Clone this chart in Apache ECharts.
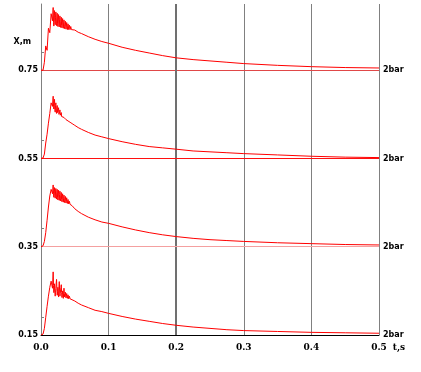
<!DOCTYPE html>
<html>
<head>
<meta charset="utf-8">
<script src="https://cdn.jsdelivr.net/npm/echarts@6/dist/echarts.min.js"></script>
<style>
html,body{margin:0;padding:0;background:#fff;}
#chart{width:421px;height:372px;}
</style>
</head>
<body>
<div id="chart"></div>
<script>
// Time samples (s)
const timeS = [0, 0.003, 0.005, 0.007, 0.009, 0.011, 0.013, 0.015, 0.017,
  0.018, 0.0185, 0.019, 0.0195, 0.020, 0.0205, 0.021, 0.0215, 0.022, 0.0225,
  0.023, 0.0235, 0.024, 0.0245, 0.025, 0.0255, 0.026, 0.0265, 0.027, 0.0275,
  0.028, 0.0285, 0.029, 0.0295, 0.030, 0.0305, 0.031, 0.0315, 0.032, 0.0325,
  0.033, 0.0335, 0.034, 0.0345, 0.035, 0.0355, 0.036,
  0.037, 0.038, 0.039, 0.040, 0.041, 0.042, 0.043, 0.044, 0.045, 0.046,
  0.050, 0.055, 0.060, 0.070, 0.080, 0.090, 0.100, 0.120, 0.140, 0.160,
  0.180, 0.200, 0.225, 0.250, 0.275, 0.300, 0.350, 0.400, 0.450, 0.500];

// Displacement X, m (each trace drawn on its own baseline)
const curve075 = [0.750, 0.750, 0.768, 0.805, 0.795, 0.845, 0.835, 0.878, 0.862,
  0.892, 0.858, 0.850, 0.874, 0.885, 0.860, 0.853, 0.870, 0.882, 0.856,
  0.851, 0.868, 0.879, 0.855, 0.849, 0.866, 0.876, 0.853, 0.848, 0.864,
  0.873, 0.852, 0.847, 0.861, 0.870, 0.851, 0.846, 0.859, 0.867, 0.850,
  0.845, 0.857, 0.864, 0.849, 0.844, 0.854, 0.861,
  0.843, 0.858, 0.842, 0.855, 0.842, 0.852, 0.842, 0.849, 0.842, 0.846,
  0.841, 0.836, 0.833, 0.826, 0.820, 0.815, 0.811, 0.802, 0.795, 0.789,
  0.783, 0.778, 0.774, 0.771, 0.768, 0.765, 0.761, 0.758, 0.756, 0.755];

const curve055 = [0.550, 0.551, 0.560, 0.585, 0.605, 0.630, 0.652, 0.676, 0.668,
  0.691, 0.668, 0.662, 0.678, 0.684, 0.661, 0.655, 0.670, 0.676, 0.657,
  0.652, 0.664, 0.670, 0.654, 0.650, 0.660, 0.665, 0.650, 0.646, 0.655,
  0.660, 0.648, 0.645, 0.651, 0.654, 0.645, 0.643, 0.646, 0.648, 0.642,
  0.641, 0.642, 0.643, 0.640, 0.639, 0.639, 0.639,
  0.638, 0.637, 0.636, 0.635, 0.634, 0.633, 0.632, 0.631, 0.630, 0.629,
  0.625, 0.620, 0.616, 0.609, 0.603, 0.599, 0.595, 0.588, 0.582, 0.577,
  0.574, 0.571, 0.567, 0.565, 0.563, 0.561, 0.558, 0.555, 0.553, 0.552];

const curve035 = [0.350, 0.352, 0.362, 0.382, 0.410, 0.440, 0.465, 0.480, 0.470,
  0.490, 0.470, 0.462, 0.476, 0.484, 0.466, 0.460, 0.474, 0.482, 0.464,
  0.458, 0.472, 0.480, 0.462, 0.456, 0.470, 0.478, 0.461, 0.455, 0.468,
  0.476, 0.459, 0.454, 0.466, 0.473, 0.457, 0.452, 0.463, 0.470, 0.456,
  0.451, 0.460, 0.467, 0.455, 0.450, 0.458, 0.464,
  0.449, 0.461, 0.448, 0.457, 0.447, 0.453, 0.446, 0.449, 0.444, 0.443,
  0.436, 0.430, 0.425, 0.417, 0.411, 0.406, 0.403, 0.395, 0.388, 0.382,
  0.377, 0.373, 0.369, 0.366, 0.364, 0.362, 0.359, 0.357, 0.355, 0.354];

const curve015 = [0.150, 0.152, 0.165, 0.190, 0.215, 0.238, 0.258, 0.272, 0.256,
  0.293, 0.262, 0.246, 0.254, 0.266, 0.248, 0.238, 0.247, 0.256, 0.268,
  0.276, 0.255, 0.240, 0.249, 0.258, 0.245, 0.236, 0.255, 0.271, 0.252,
  0.238, 0.244, 0.252, 0.258, 0.264, 0.246, 0.235, 0.242, 0.250, 0.240,
  0.233, 0.245, 0.256, 0.244, 0.236, 0.241, 0.247,
  0.234, 0.244, 0.233, 0.241, 0.232, 0.238, 0.232, 0.235, 0.231, 0.231,
  0.227, 0.222, 0.218, 0.212, 0.206, 0.203, 0.199, 0.192, 0.186, 0.181,
  0.176, 0.172, 0.168, 0.165, 0.162, 0.160, 0.158, 0.156, 0.155, 0.154];

const baselines = [0.75, 0.55, 0.35];
const yLabelValues = [0.15, 0.35, 0.55, 0.75];
const yNameValue = 0.8135;
const yName = 'X,m';
const rightLabelValues = [0.15, 0.35, 0.55, 0.75];
const rightLabel = '2bar';
const rightTickValues = [0.191, 0.391, 0.591, 0.791];
const xName = 't,s';
const heavyGridX = 0.2;

const baselineColors = ['#e04848', '#ff1010', '#f4a0a0'];

const curves = [curve075, curve055, curve035, curve015];

const series = curves.map((c, k) => {
  const s = {
    type: 'line',
    data: timeS.map((t, i) => [t, c[i]]),
    showSymbol: false,
    symbol: 'none',
    sampling: null,
    lineStyle: { color: '#ff0000', width: 1 },
    z: 3
  };
  const ml = [];
  if (k < baselines.length) {
    ml.push({ yAxis: baselines[k], lineStyle: { color: baselineColors[k], width: 1, type: 'solid' } });
  }
  if (k === 0) {
    ml.push({ xAxis: heavyGridX, lineStyle: { color: '#707070', width: 2, type: 'solid' } });
  }
  if (ml.length) {
    s.markLine = { symbol: 'none', silent: true, label: { show: false }, animation: false, data: ml, z: 2 };
  }
  return s;
});

const chart = echarts.init(document.getElementById('chart'), null, { renderer: 'canvas' });
chart.setOption({
  animation: false,
  backgroundColor: '#ffffff',
  grid: { left: 41, right: 42, top: 4, bottom: 37 },
  xAxis: {
    type: 'value', min: 0, max: 0.5, interval: 0.1,
    axisLine: { onZero: false, lineStyle: { color: '#000000', width: 1 } },
    axisTick: { show: false },
    axisLabel: {
      formatter: v => v.toFixed(1),
      fontFamily: 'DejaVu Serif', fontWeight: 'bold', fontSize: 9, color: '#000', margin: 8
    },
    splitLine: { show: true, lineStyle: { color: '#808080', width: 1 } },
    name: xName, nameLocation: 'end', nameGap: 9,
    nameTextStyle: { fontFamily: 'DejaVu Serif', fontWeight: 'bold', fontSize: 9, color: '#000', verticalAlign: 'top', padding: [8, 0, 0, 0] }
  },
  yAxis: [{
    type: 'value', min: 0.15, max: 0.9, position: 'left',
    axisLine: { show: true, onZero: false, lineStyle: { color: '#808080', width: 1 } },
    axisTick: { show: false },
    splitLine: { show: false },
    axisLabel: {
      customValues: yLabelValues.concat([yNameValue]),
      formatter: v => (Math.abs(v - yNameValue) < 1e-6 ? '{n|' + yName + '}' : v.toFixed(2)),
      fontFamily: 'DejaVu Sans', fontWeight: 'bold', fontSize: 8, color: '#000', margin: 3,
      rich: { n: { fontFamily: 'DejaVu Sans', fontWeight: 'bold', fontSize: 8, color: '#000', padding: [0, 7, 0, 0] } }
    }
  }, {
    type: 'value', min: 0.15, max: 0.9, position: 'right',
    axisLine: { show: false },
    axisTick: { show: true, customValues: rightTickValues, length: 3, lineStyle: { color: '#808080' } },
    splitLine: { show: false },
    axisLabel: {
      customValues: rightLabelValues,
      formatter: () => rightLabel,
      fontFamily: 'DejaVu Sans', fontWeight: 'bold', fontSize: 8, color: '#000', margin: 4,
      padding: [0, 0, 6, 0]
    }
  }],
  series: series
});
</script>
</body>
</html>
